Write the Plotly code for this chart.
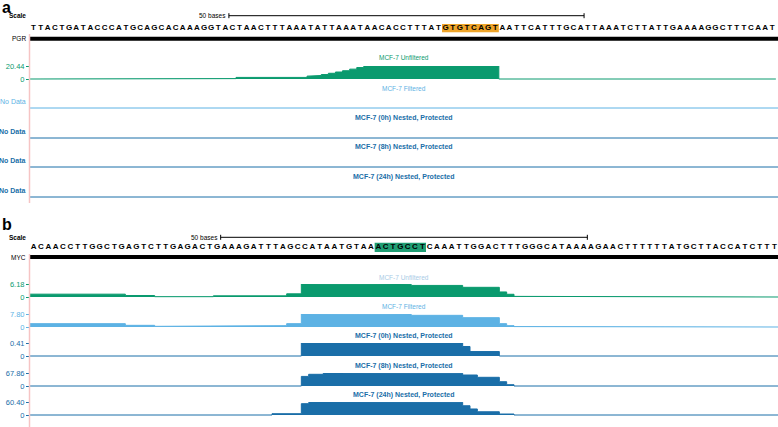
import plotly.graph_objects as go

# ---------------- data ----------------
SEQ_A = "TTACTGATACCCATGCAGCACAAAGGTACTAACTTTAAATATTAAATAACACCTTTATGTGTCAGTAATTCATTTGCATTAAATCTTATTGAAAAGGCTTTCAAT"
SEQ_B = "ACAACCTTGGCTGAGTCTTGAGACTGAAAGATTTAGCCATAATGTAAACTGCCTCAAATTGGACTTTGGGCATAAAAGAACTTTTTTATGCTTACCATCTTT"
GENE_A = "PGR"
GENE_B = "MYC"
HILITE_A = (58, 66)   # GTGTCAGT
HILITE_B = (47, 54)   # ACTGCCT
SCALE_A_START = 28
SCALE_B_START = 26
SCALE_BASES = 50

TRACK_NAMES = ["MCF-7 Unfiltered", "MCF-7 Filtered", "MCF-7 (0h) Nested, Protected",
               "MCF-7 (8h) Nested, Protected", "MCF-7 (24h) Nested, Protected"]

# panel a (bedGraph style: start, end, value)
A_UNF_START = [0, 20, 29, 39, 40, 41, 42, 43, 44, 45, 46, 47, 66]
A_UNF_END   = [20, 29, 39, 40, 41, 42, 43, 44, 45, 46, 47, 66, 105]
A_UNF_VAL   = [0, 0.6, 2.5, 4.5, 5.5, 7, 9, 11, 13, 15.5, 18, 20.44, 0]
A_MAX = [20.44, None, None, None, None]

# panel b
B_UNF_START = [0, 13, 17, 25, 35, 37, 45, 52, 59, 64, 65, 66, 97]
B_UNF_END   = [13, 17, 25, 35, 37, 45, 52, 59, 64, 65, 66, 97, 102]
B_UNF_VAL   = [1.35, 0.7, 0.15, 0.55, 1.5, 6.18, 5.9, 5.5, 4.6, 2.4, 1.3, 0.3, 0]

B_FIL_START = [0, 13, 17, 25, 35, 37, 46, 52, 59, 64, 65, 66, 97]
B_FIL_END   = [13, 17, 25, 35, 37, 46, 52, 59, 64, 65, 66, 97, 102]
B_FIL_VAL   = [2.0, 1.0, 0.4, 0.8, 2.0, 7.80, 7.5, 7.0, 5.6, 2.0, 0.8, 0.25, 0]

B_0H_START = [0, 37, 59, 60, 64]
B_0H_END   = [37, 59, 60, 64, 102]
B_0H_VAL   = [0, 0.41, 0.30, 0.14, 0]

B_8H_START = [0, 37, 38, 40, 48, 59, 61, 64, 65, 66]
B_8H_END   = [37, 38, 40, 48, 59, 61, 64, 65, 66, 102]
B_8H_VAL   = [0, 50, 61, 67.86, 66.5, 57.4, 45.4, 22.4, 6.8, 0]

B_24H_START = [0, 33, 37, 38, 46, 53, 59, 60, 61, 64, 66]
B_24H_END   = [33, 37, 38, 46, 53, 59, 60, 61, 64, 66, 102]
B_24H_VAL   = [0, 6, 52.6, 58, 60.40, 59, 43, 28, 15, 4.6, 0]
B_MAX = [6.18, 7.80, 0.41, 67.86, 60.40]
B_MAX_TXT = ["6.18", "7.80", "0.41", "67.86", "60.40"]

# ---------------- styling / layout ----------------
W, H = 778, 427
X0 = 30
FONT = "Liberation Sans"
GREEN = "#0a9a6e"
LBLUE = "#5db2e4"
DBLUE = "#1a6ea8"
PALE = "#a9cbe6"
TRACK_COL = [GREEN, LBLUE, DBLUE, DBLUE, DBLUE]
TITLE_COL_A = [GREEN, LBLUE, DBLUE, DBLUE, DBLUE]
TITLE_COL_B = [PALE, LBLUE, DBLUE, DBLUE, DBLUE]
TITLE_BOLD = [False, False, True, True, True]

ROWS_A = [(57.5, 66, 79), (88, 95, 108), (118, 125, 138), (147, 154, 167), (177, 184, 197)]
ROWS_B = [(277, 284, 297), (306.5, 314, 327), (336, 343, 356), (365.5, 373, 386), (395, 402, 415)]


def P(y):
    return 1 - y / H


def step_xy(starts, ends, vals):
    xs, ys = [], []
    for s, e, v in zip(starts, ends, vals):
        xs += [s, e]
        ys += [v, v]
    return xs, ys


fig = go.Figure()
XD = [X0 / W, 1]
layout = dict(width=W, height=H, margin=dict(l=0, r=0, t=0, b=0, autoexpand=False),
              paper_bgcolor="white", plot_bgcolor="rgba(0,0,0,0)", showlegend=False,
              font=dict(family=FONT, size=7, color="black"))
layout["xaxis"] = dict(domain=XD, range=[0, 105.3], visible=False, anchor="y", fixedrange=True, automargin=False)
layout["xaxis2"] = dict(domain=XD, range=[0, 102], visible=False, anchor="y7", fixedrange=True, automargin=False)

annotations = []
shapes = []


def txt(x, y, s, size=7, color="black", bold=False, xanchor="center", xref="paper"):
    if bold:
        s = "<b>" + s + "</b>"
    annotations.append(dict(x=x, y=P(y), xref=xref, yref="paper", text=s, showarrow=False,
                            xanchor=xanchor, yanchor="middle",
                            font=dict(family=FONT, size=size, color=color)))


def header(xname, yname, yidx, seq, seq_top, seq_bot, hilite, hcol, scale_y, scale_start,
           gene, gene_y, label, label_y):
    layout["yaxis" + ("" if yidx == 1 else str(yidx))] = dict(
        domain=[P(seq_bot), P(seq_top)], range=[-1, 1], visible=False, anchor=xname,
        fixedrange=True, automargin=False)
    shapes.append(dict(type="rect", xref=xname, yref=yname, x0=hilite[0], x1=hilite[1], y0=-1, y1=1,
                       fillcolor=hcol, line=dict(width=0), layer="below"))
    fig.add_trace(go.Scatter(x=[i + 0.5 for i in range(len(seq))], y=[0] * len(seq),
                             text=["<b>" + c + "</b>" for c in seq],
                             mode="text", textposition="middle center",
                             textfont=dict(family=FONT, size=8, color="black"),
                             xaxis=xname, yaxis=yname, hoverinfo="skip"))
    # scale bar
    shapes.append(dict(type="line", xref=xname, yref="paper", x0=scale_start, x1=scale_start + SCALE_BASES,
                       y0=P(scale_y), y1=P(scale_y), line=dict(color="black", width=1)))
    for xx in (scale_start, scale_start + SCALE_BASES):
        shapes.append(dict(type="line", xref=xname, yref="paper", x0=xx, x1=xx,
                           y0=P(scale_y - 2.5), y1=P(scale_y + 2.5), line=dict(color="black", width=1)))
    annotations.append(dict(x=scale_start, y=P(scale_y), xref=xname, yref="paper", text="50 bases",
                            showarrow=False, xanchor="right", yanchor="middle", xshift=-1,
                            font=dict(family=FONT, size=6.5, color="black")))
    txt(28 / W, scale_y, "Scale", size=6.5, bold=True, xanchor="right")
    # gene bar
    shapes.append(dict(type="line", xref=xname + " domain", yref="paper", x0=0, x1=1,
                       y0=P(gene_y), y1=P(gene_y), line=dict(color="black", width=4)))
    txt(28 / W, gene_y, gene, size=6.5, xanchor="right")
    txt(0, label_y, label, size=16, bold=True, xanchor="left")


header("x", "y", 1, SEQ_A, 24, 32.5, HILITE_A, "#efa52a", 15.7, SCALE_A_START, GENE_A, 38.7, "a", 7)
header("x2", "y7", 7, SEQ_B, 242.5, 252, HILITE_B, "#1f9e74", 237.3, SCALE_B_START, GENE_B, 257, "b", 224)

center = ((X0 + W) / 2) / W


def data_track(xname, yidx, row, mx, mxt, col, xs, ys):
    title_y, top, bot = row
    yname = "y" + str(yidx)
    pad = mx / (bot - top)
    layout["yaxis" + str(yidx)] = dict(
        domain=[P(bot + 1), P(top)], range=[-pad, mx], anchor=xname, fixedrange=True, automargin=False,
        tickvals=[0, mx], ticktext=["0", mxt], ticks="outside", ticklen=3, tickwidth=1,
        tickcolor=col, tickfont=dict(family=FONT, size=7.5, color=col),
        showgrid=False, zeroline=False, showline=False)
    fig.add_trace(go.Scatter(x=xs, y=ys, mode="lines", fill="tozeroy", fillcolor=col,
                             line=dict(color=col, width=1), xaxis=xname, yaxis=yname, hoverinfo="skip"))


# panel a tracks
for k, name in enumerate(TRACK_NAMES):
    title_y, top, bot = ROWS_A[k]
    txt(center, title_y, name, size=7 if TITLE_BOLD[k] else 6.5, color=TITLE_COL_A[k], bold=TITLE_BOLD[k])
    if A_MAX[k] is not None:
        xs, ys = step_xy(A_UNF_START, A_UNF_END, A_UNF_VAL)
        data_track("x", 2, ROWS_A[k], A_MAX[k], "20.44", TRACK_COL[k], xs, ys)
    else:
        shapes.append(dict(type="line", xref="x domain", yref="paper", x0=0, x1=1,
                           y0=P(bot), y1=P(bot), line=dict(color=TRACK_COL[k], width=1)))
        txt(28 / W, (top + bot) / 2, "No Data", size=7, color=TRACK_COL[k], bold=(k > 1), xanchor="right")

# panel b tracks
B_SERIES = [(B_UNF_START, B_UNF_END, B_UNF_VAL), (B_FIL_START, B_FIL_END, B_FIL_VAL),
            (B_0H_START, B_0H_END, B_0H_VAL), (B_8H_START, B_8H_END, B_8H_VAL),
            (B_24H_START, B_24H_END, B_24H_VAL)]
for k, name in enumerate(TRACK_NAMES):
    txt(center, ROWS_B[k][0], name, size=7 if TITLE_BOLD[k] else 6.5, color=TITLE_COL_B[k], bold=TITLE_BOLD[k])
    xs, ys = step_xy(*B_SERIES[k])
    data_track("x2", 8 + k, ROWS_B[k], B_MAX[k], B_MAX_TXT[k], TRACK_COL[k], xs, ys)

# pink left border of data area
for y0, y1 in ((34, 203), (254, 427)):
    shapes.append(dict(type="line", xref="paper", yref="paper", x0=(X0 - 0.5) / W, x1=(X0 - 0.5) / W,
                       y0=P(y0), y1=P(y1), line=dict(color="#f6c4c4", width=1.5), layer="above"))

layout["annotations"] = annotations
layout["shapes"] = shapes
fig.update_layout(**layout)
fig.write_html("out.html", config={"displayModeBar": False},
               post_script="document.body.style.margin='0px';document.body.style.padding='0px';")
